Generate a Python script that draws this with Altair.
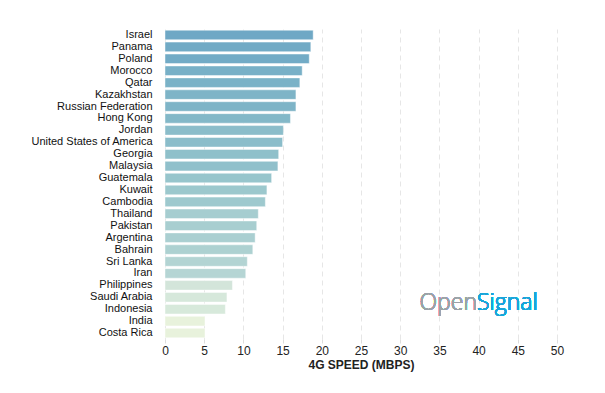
import altair as alt
import pandas as pd

countries = ["Israel", "Panama", "Poland", "Morocco", "Qatar", "Kazakhstan",
             "Russian Federation", "Hong Kong", "Jordan", "United States of America",
             "Georgia", "Malaysia", "Guatemala", "Kuwait", "Cambodia", "Thailand",
             "Pakistan", "Argentina", "Bahrain", "Sri Lanka", "Iran", "Philippines",
             "Saudi Arabia", "Indonesia", "India", "Costa Rica"]
speeds = [18.9, 18.6, 18.4, 17.5, 17.2, 16.7, 16.7, 16.0, 15.1, 15.0,
          14.5, 14.4, 13.6, 13.0, 12.8, 11.9, 11.7, 11.5, 11.2, 10.5,
          10.3, 8.6, 7.9, 7.7, 5.1, 5.1]
x_ticks = [0, 5, 10, 15, 20, 25, 30, 35, 40, 45, 50]

df = pd.DataFrame({"country": countries, "speed": speeds})

FONT = "Liberation Sans"

bars = alt.Chart(df).mark_bar(stroke="white", strokeOpacity=0.45, strokeWidth=1).encode(
    x=alt.X("speed:Q", title="4G SPEED (MBPS)",
            scale=alt.Scale(domain=[0, 50], nice=False),
            axis=alt.Axis(values=x_ticks, grid=True, gridDash=[5, 4], gridColor="#e6e6e6",
                          domain=False, tickColor="#dddddd", tickSize=4, labelFlush=False,
                          labelFont=FONT, labelFontSize=12, labelColor="#222222",
                          labelPadding=2,
                          titleFont=FONT, titleFontSize=12, titleFontWeight="bold",
                          titleColor="#222222", titlePadding=3)),
    y=alt.Y("country:N", sort=countries, title=None,
            scale=alt.Scale(paddingInner=0.2, paddingOuter=0.1),
            axis=alt.Axis(domain=False, ticks=False, labelFont=FONT, labelFontSize=11,
                          labelColor="#111111", labelPadding=13)),
    color=alt.Color("speed:Q", legend=None,
                    scale=alt.Scale(domain=[5.1, 8.6, 10.3, 18.9],
                                    range=["#e8f2dc", "#d3e5da", "#b5d5d4", "#6fa8c5"])),
)

logo_open = alt.Chart(df).mark_text(text="Open", font="Open Sans", fontSize=23, fontWeight=300,
                                    color="#9aa3a8", align="right", baseline="alphabetic").encode(
    x=alt.value(312), y=alt.value(281))
logo_signal = alt.Chart(df).mark_text(text="Signal", font="Open Sans", fontSize=23, fontWeight=300,
                                      color="#19a5da", align="left", baseline="alphabetic").encode(
    x=alt.value(312), y=alt.value(281))

chart = alt.layer(bars, logo_open, logo_signal).properties(
    width=392, height=310,
    autosize=alt.AutoSizeParams(type="none"),
    padding={"left": 157, "top": 21, "right": 40, "bottom": 55},
).configure_view(stroke=None)

chart.save("out.html", embed_options={"renderer": "svg", "actions": False})
